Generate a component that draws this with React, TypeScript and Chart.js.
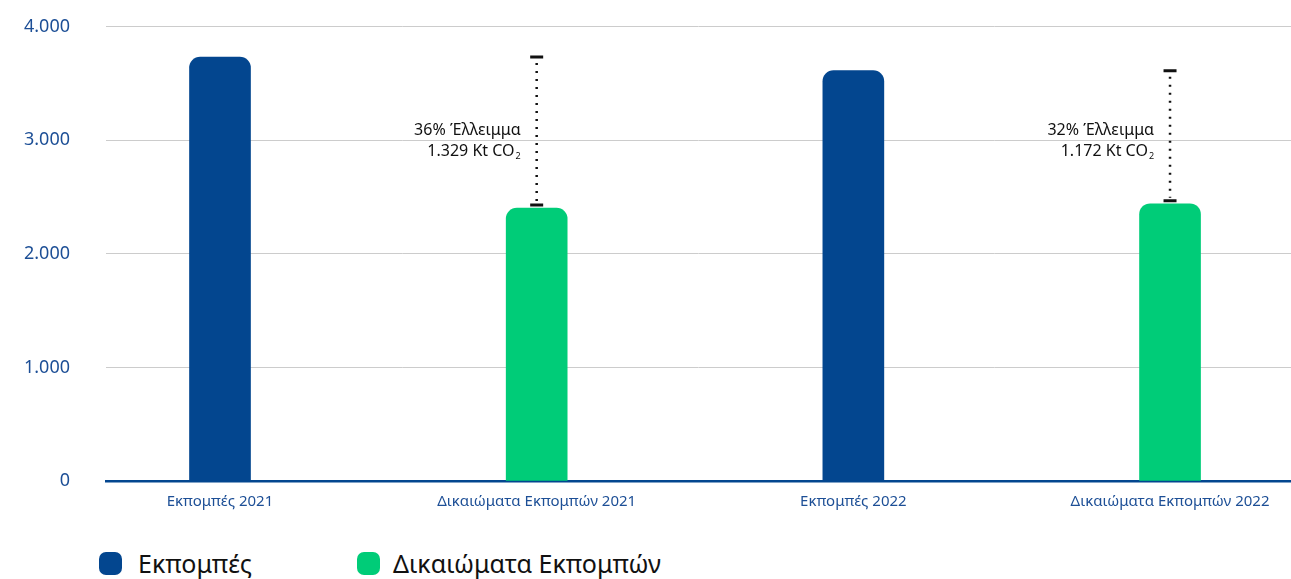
import React, { useEffect, useRef } from "react";
import { Chart, registerables } from "chart.js";

Chart.register(...registerables);

const categories = [
  "Εκπομπές 2021",
  "Δικαιώματα Εκπομπών 2021",
  "Εκπομπές 2022",
  "Δικαιώματα Εκπομπών 2022",
];
const emissionsPositions = [0, 2];
const emissionsValues = [3733, 3614];
const allowancePositions = [1, 3];
const allowanceValues = [2404, 2442];
const deficitPercent = ["36%", "32%"];
const deficitKt = ["1.329", "1.172"];
const yTicks = [0, 1000, 2000, 3000, 4000];
const legendLabels = ["Εκπομπές", "Δικαιώματα Εκπομπών"];

const BLUE = "#03468f";
const GREEN = "#00cc78";
const TICK_BLUE = "#1d4f96";
const FONT = "'Noto Sans', sans-serif";

const fmt = (v: number) => v.toLocaleString("de-DE");

const deficitPlugin = {
  id: "deficit",
  afterDatasetsDraw(chart: any) {
    const { ctx } = chart;
    const xs = chart.scales.x;
    const ys = chart.scales.y;
    ctx.save();
    allowancePositions.forEach((pos, i) => {
      const x = xs.getPixelForValue(pos);
      const yTop = ys.getPixelForValue(emissionsValues[i]);
      const yBot = ys.getPixelForValue(allowanceValues[i]) - 3;
      ctx.beginPath();
      ctx.setLineDash([2, 6]);
      ctx.lineWidth = 2.5;
      ctx.strokeStyle = "#111";
      ctx.moveTo(x, yTop + 6);
      ctx.lineTo(x, yBot - 3);
      ctx.stroke();
      ctx.setLineDash([]);
      ctx.lineWidth = 3;
      ctx.beginPath();
      ctx.moveTo(x - 6.5, yTop);
      ctx.lineTo(x + 6.5, yTop);
      ctx.moveTo(x - 6.5, yBot);
      ctx.lineTo(x + 6.5, yBot);
      ctx.stroke();
      const yMid = ys.getPixelForValue(3000);
      const right = x - 16;
      ctx.fillStyle = "#111";
      ctx.textAlign = "right";
      ctx.textBaseline = "middle";
      ctx.font = `16px ${FONT}`;
      ctx.fillText(`${deficitPercent[i]} Έλλειμμα`, right, yMid - 10);
      ctx.font = `9px ${FONT}`;
      const subW = ctx.measureText("2").width + 1;
      ctx.fillText("2", right, yMid + 16);
      ctx.font = `16px ${FONT}`;
      ctx.fillText(`${deficitKt[i]} Kt CO`, right - subW, yMid + 11);
    });
    ctx.restore();
  },
};

export default function App() {
  const canvasRef = useRef<HTMLCanvasElement | null>(null);

  useEffect(() => {
    if (!canvasRef.current) return;
    const chart = new Chart(canvasRef.current, {
      type: "bar",
      data: {
        datasets: [
          {
            label: legendLabels[0],
            data: emissionsPositions.map((p, i) => ({ x: p, y: emissionsValues[i] })),
            backgroundColor: BLUE,
            borderRadius: { topLeft: 11, topRight: 11, bottomLeft: 0, bottomRight: 0 },
            borderSkipped: false,
            barThickness: 61,
            grouped: false,
          } as any,
          {
            label: legendLabels[1],
            data: allowancePositions.map((p, i) => ({ x: p, y: allowanceValues[i] })),
            backgroundColor: GREEN,
            borderRadius: { topLeft: 11, topRight: 11, bottomLeft: 0, bottomRight: 0 },
            borderSkipped: false,
            barThickness: 61,
            grouped: false,
          } as any,
        ],
      },
      options: {
        animation: false,
        responsive: false,
        maintainAspectRatio: false,
        layout: { padding: { top: 5, right: 0, left: 0, bottom: 0 } },
        plugins: {
          legend: { display: false },
          tooltip: { enabled: false },
        },
        scales: {
          x: {
            type: "linear",
            offset: false,
            min: -0.36,
            max: 3.382,
            afterBuildTicks: (scale: any) => {
              scale.ticks = categories.map((_, i) => ({ value: i }));
            },
            afterFit: (scale: any) => {
              scale.height = 49;
            },
            grid: { display: false, drawTicks: false, offset: false },
            border: { display: true, color: BLUE, width: 2.5 },
            ticks: {
              autoSkip: false,
              maxRotation: 0,
              padding: 12,
              color: TICK_BLUE,
              font: { family: FONT, size: 15 },
              callback: (v: any) => categories[v] ?? "",
            },
          },
          y: {
            min: 0,
            max: 4000,
            afterBuildTicks: (scale: any) => {
              scale.ticks = yTicks.map((v) => ({ value: v }));
            },
            afterFit: (scale: any) => {
              scale.width = 106;
            },
            grid: { color: "#cccccc", lineWidth: 1, drawTicks: false },
            border: { display: false },
            ticks: {
              padding: 36,
              color: TICK_BLUE,
              font: { family: FONT, size: 18 },
              callback: (v: any) => fmt(Number(v)),
            },
          },
        },
      } as any,
      plugins: [deficitPlugin],
    });
    return () => chart.destroy();
  }, []);

  const legendColors = [BLUE, GREEN];
  const legendLeft = [99, 357];

  return (
    <div style={{ position: "fixed", left: 0, top: 0, width: 1291, height: 579, background: "#fff", fontFamily: FONT, overflow: "hidden" }}>
      <canvas ref={canvasRef} width={1291} height={550} style={{ position: "absolute", left: 0, top: -20, width: 1291, height: 550 }} />
      {legendLabels.map((l, i) => (
        <div key={l} style={{ position: "absolute", left: legendLeft[i], top: 551, height: 24, display: "flex", alignItems: "center" }}>
          <div style={{ width: 23, height: 23, borderRadius: 7, background: legendColors[i] }} />
          <span style={{ marginLeft: i === 0 ? 16 : 13, fontSize: 25, color: "#111", lineHeight: "24px", whiteSpace: "nowrap" }}>{l}</span>
        </div>
      ))}
    </div>
  );
}
